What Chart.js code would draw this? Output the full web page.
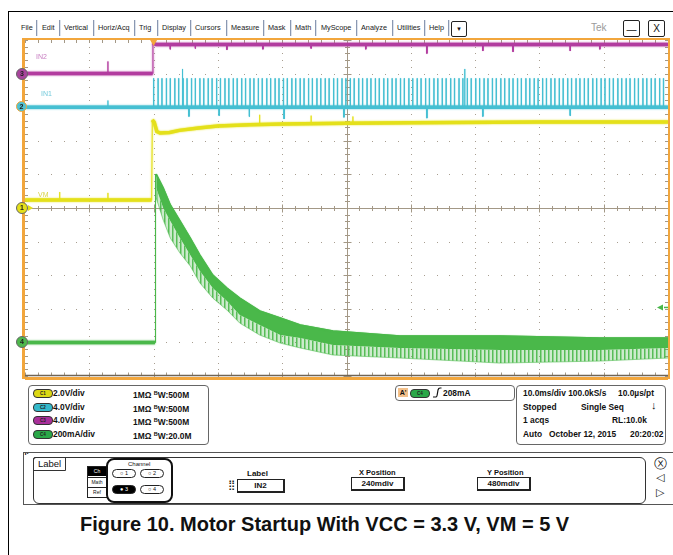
<!DOCTYPE html>
<html>
<head>
<meta charset="utf-8">
<script src="https://cdn.jsdelivr.net/npm/chart.js@4.4.1/dist/chart.umd.min.js"></script>
<style>
  body { margin: 0; width: 673px; height: 555px; position: relative; overflow: hidden; background: #fff;
         font-family: "Liberation Sans", Arial, sans-serif; color: #111; }
  .abs { position: absolute; }
  .menu { position: absolute; top: 23px; font-size: 7.3px; line-height: 10px; color: #1a1a1a; white-space: nowrap; }
  .sep { position: absolute; top: 20px; width: 1px; height: 16px; background: #8a98b2; box-shadow: 1px 0 0 #dde3ec; }
  .btn { position: absolute; border: 1px solid #222; border-radius: 2px; background: #fff; text-align: center; }
  .box { position: absolute; border: 1px solid #666; border-radius: 4px; }
  .row { position: absolute; font-size: 8.4px; font-weight: bold; line-height: 9px; white-space: nowrap; }
  .pill { position: absolute; width: 18px; height: 7px; border-radius: 4px; border: 1px solid #333;
          font: bold 4.5px "Liberation Sans", Arial; text-align: center; line-height: 7px; color: #222; }
  .bw { font-size: 5.5px; vertical-align: 3px; }
  .mk { position: absolute; left: 16px; width: 10px; height: 10px; border-radius: 50%; border: 1px solid #666;
        font: bold 7px "Liberation Sans", Arial; text-align: center; line-height: 10px; color: #222; z-index: 3; }
  .tag { position: absolute; font-size: 7px; line-height: 8px; z-index: 3; }
  .small { position: absolute; font-size: 5px; line-height: 6px; white-space: nowrap; }
  .radio { position: absolute; width: 22px; height: 7px; border: 1px solid #222; border-radius: 5px;
           font-size: 5.5px; line-height: 7px; text-align: center; }
  .field { position: absolute; height: 11px; border: 1px solid #222; border-right-width: 2px; border-bottom-width: 2px;
           font-size: 8px; font-weight: bold; line-height: 11px; text-align: center; }
</style>
</head>
<body>
<!-- outer frame -->
<div class="abs" style="left:8px;top:11px;width:665px;height:1px;background:#000"></div>
<div class="abs" style="left:8px;top:11px;width:1px;height:544px;background:#000"></div>

<!-- menu bar -->
<div class="menu" style="left:21px">File</div>
<div class="sep" style="left:36px"></div>
<div class="menu" style="left:42px">Edit</div>
<div class="sep" style="left:59px"></div>
<div class="menu" style="left:64px">Vertical</div>
<div class="sep" style="left:93px"></div>
<div class="menu" style="left:98px">Horiz/Acq</div>
<div class="sep" style="left:134px"></div>
<div class="menu" style="left:139px">Trig</div>
<div class="sep" style="left:157px"></div>
<div class="menu" style="left:162px">Display</div>
<div class="sep" style="left:190px"></div>
<div class="menu" style="left:195px">Cursors</div>
<div class="sep" style="left:226px"></div>
<div class="menu" style="left:231px">Measure</div>
<div class="sep" style="left:263px"></div>
<div class="menu" style="left:268px">Mask</div>
<div class="sep" style="left:290px"></div>
<div class="menu" style="left:295px">Math</div>
<div class="sep" style="left:315px"></div>
<div class="menu" style="left:321px">MyScope</div>
<div class="sep" style="left:356px"></div>
<div class="menu" style="left:361px">Analyze</div>
<div class="sep" style="left:392px"></div>
<div class="menu" style="left:397px">Utilities</div>
<div class="sep" style="left:424px"></div>
<div class="menu" style="left:429px">Help</div>
<div class="sep" style="left:448px"></div>
<div class="btn" style="left:451px;top:21px;width:14px;height:14px;font-size:6px;line-height:14px">&#9660;</div>
<div class="abs" style="left:591px;top:22px;font-size:10px;color:#9a9a9a">Tek</div>
<div class="btn" style="left:623px;top:20px;width:15px;height:15px;font-size:10px;line-height:17px">&#8212;</div>
<div class="btn" style="left:648px;top:20px;width:15px;height:15px;font-size:10px;line-height:15px">X</div>

<!-- scope screen -->
<div class="abs" style="left:0;top:30px;width:673px;height:355px"><canvas id="scope"></canvas></div>

<div class="mk" id="mk3" style="background:#a8439c">3</div>
<div class="mk" id="mk2" style="background:#4ec2d4;border:1.5px solid #f0a53a;width:9px;height:9px;line-height:9px">2</div>
<div class="mk" id="mk1" style="background:#e4e01a">1</div>
<div class="abs" id="mk1arrow" style="left:28px;width:0;height:0;border-top:3px solid transparent;border-bottom:3px solid transparent;border-left:5px solid #e4e01a;z-index:3"></div>
<div class="mk" id="mk4" style="background:#4db84b">4</div>
<div class="tag" id="tagIN2" style="left:36px;color:#c77cc0">IN2</div>
<div class="tag" id="tagIN1" style="left:41px;color:#74cadb">IN1</div>
<div class="tag" id="tagVM" style="left:38px;color:#d9d44a">VM</div>

<!-- vertical settings -->
<div class="box" style="left:28px;top:385px;width:179px;height:58px"></div>
<div class="pill" style="left:33px;top:389px;background:#dcd813">C1</div>
<div class="row" style="left:53px;top:389px">2.0V/div</div>
<div class="row" style="left:133px;top:389px">1M&Omega; <span class="bw">B</span>W:500M</div>
<div class="pill" style="left:33px;top:403px;background:#33b9cb">C2</div>
<div class="row" style="left:53px;top:403px">4.0V/div</div>
<div class="row" style="left:133px;top:403px">1M&Omega; <span class="bw">B</span>W:500M</div>
<div class="pill" style="left:33px;top:416px;background:#a8309a">C3</div>
<div class="row" style="left:53px;top:416px">4.0V/div</div>
<div class="row" style="left:133px;top:416px">1M&Omega; <span class="bw">B</span>W:500M</div>
<div class="pill" style="left:33px;top:430px;background:#2aa848">C4</div>
<div class="row" style="left:53px;top:430px">200mA/div</div>
<div class="row" style="left:133px;top:430px">1M&Omega; <span class="bw">B</span>W:20.0M</div>

<!-- trigger readout -->
<div class="box" style="left:395px;top:385px;width:118px;height:14px"></div>
<div class="abs" style="left:398px;top:388px;width:10px;height:9px;background:#f3c08a;font-size:7px;font-weight:bold;line-height:9px;text-align:center">A'</div>
<div class="pill" style="left:410px;top:389px;background:#2aa848">C4</div>
<svg class="abs" style="left:432px;top:387px" width="10" height="11"><path d="M1 10 L4 10 Q5 10 5.5 6 L6 3 Q6.5 1 8 1 L9.5 1" fill="none" stroke="#111" stroke-width="1.2"/></svg>
<div class="row" style="left:443px;top:389px">208mA</div>

<!-- horizontal readout -->
<div class="box" style="left:516px;top:385px;width:148px;height:58px"></div>
<div class="row" style="left:523px;top:389px">10.0ms/div 100.0kS/s</div>
<div class="row" style="left:618px;top:389px">10.0&micro;s/pt</div>
<div class="row" style="left:523px;top:403px">Stopped</div>
<div class="row" style="left:581px;top:403px">Single Seq</div>
<div class="row" style="left:651px;top:401px;font-size:11px">&#8595;</div>
<div class="row" style="left:523px;top:416px">1 acqs</div>
<div class="row" style="left:612px;top:416px">RL:10.0k</div>
<div class="row" style="left:523px;top:430px">Auto</div>
<div class="row" style="left:549px;top:430px">October 12, 2015</div>
<div class="row" style="left:630px;top:430px">20:20:02</div>

<!-- lower control panel -->
<div class="abs" style="left:23px;top:452px;width:650px;height:51px;border-top:1px solid #555;border-bottom:1px solid #555;border-left:1px solid #555"></div>
<div class="abs" style="left:24px;top:452px;font-size:7px;line-height:7px">&#10251;</div>
<div class="abs" style="left:33px;top:457px;width:611px;height:45px;border:1px solid #333;border-radius:2px 6px 6px 6px"></div>
<div class="abs" style="left:33px;top:457px;width:31px;height:12px;border:1px solid #333;border-radius:3px 0 0 0;font-size:9.5px;line-height:12px;padding-left:0;text-align:center">Label</div>
<div class="abs" style="left:87px;top:466px;width:19px;height:30px;border:1px solid #222"></div>
<div class="small" style="left:88px;top:467px;width:18px;height:9px;background:#000;color:#fff;line-height:9px;text-align:center">Ch</div>
<div class="small" style="left:88px;top:477px;width:18px;line-height:9px;text-align:center;border-top:1px solid #222">Math</div>
<div class="small" style="left:88px;top:487px;width:18px;line-height:9px;text-align:center;border-top:1px solid #222">Ref</div>
<div class="abs" style="left:106px;top:458px;width:63px;height:41px;border:2px solid #111;border-radius:8px"></div>
<div class="small" style="left:128px;top:461px;font-size:6px">Channel</div>
<div class="radio" style="left:112px;top:469px">&#9675; 1</div>
<div class="radio" style="left:140px;top:469px">&#9675; 2</div>
<div class="radio" style="left:112px;top:485px;background:#000;color:#fff">&#9679; 3</div>
<div class="radio" style="left:140px;top:485px">&#9675; 4</div>
<div class="abs" style="left:247px;top:469px;font-size:8px;font-weight:bold">Label</div>
<div class="abs" style="left:228px;top:479px;font-size:10px;line-height:12px">&#10495;</div>
<div class="field" style="left:237px;top:479px;width:45px">IN2</div>
<div class="abs" style="left:359px;top:468px;font-size:7.5px;font-weight:bold">X Position</div>
<div class="field" style="left:351px;top:477px;width:51px">240mdiv</div>
<div class="abs" style="left:487px;top:468px;font-size:7.5px;font-weight:bold">Y Position</div>
<div class="field" style="left:477px;top:477px;width:51px">480mdiv</div>
<div class="abs" style="left:654px;top:457px;font-size:13px;line-height:14px;font-family:'DejaVu Sans'">&#9447;</div>
<div class="abs" style="left:656px;top:472px;font-size:11px;line-height:12px;font-family:'DejaVu Sans'">&#9665;</div>
<div class="abs" style="left:656px;top:487px;font-size:11px;line-height:12px;font-family:'DejaVu Sans'">&#9655;</div>

<!-- caption -->
<div class="abs" style="left:80px;top:513px;font-size:20px;font-weight:bold;white-space:nowrap">Figure 10. Motor Startup With VCC = 3.3 V, VM = 5 V</div>

<script>
// time in ms relative to the trigger, 10 ms/div, 10 divisions
const timeRange = [-20, 80];

// C1: VM, 2.0 V/div
const vmTime  = [-20, -0.3, -0.2, 0.1, 0.5, 1.0, 2.5, 4.0, 7.0, 10.0, 15.0, 20.0, 30.0, 40.0, 60.0, 80.0];
const vmVolts = [0.48, 0.48, 5.24, 5.1, 4.55, 4.46, 4.5, 4.62, 4.76, 4.88, 4.95, 5.0, 5.05, 5.08, 5.12, 5.12];
const vmGlitchTime = [-14.6, -7.1, 16.5, 24.5, 31.0];
const vmGlitchFrom = [0.48, 0.48, 5.0, 5.05, 5.05];
const vmGlitchTo   = [0.95, 0.9, 5.55, 5.5, 5.45];

// C2: IN1, 4.0 V/div
const in1Time  = [-20, 80];
const in1Volts = [0, 0];
const in1PulseTime = [
  0.0, 0.7, 1.3, 2.0, 2.6, 3.3, 3.9, 4.6, 5.2, 5.9,
  6.5, 7.2, 7.8, 8.5, 9.1, 9.8, 10.4, 11.1, 11.7, 12.4,
  13.0, 13.7, 14.3, 15.0, 15.6, 16.3, 16.9, 17.6, 18.2, 18.9,
  19.5, 20.2, 20.8, 21.5, 22.1, 22.8, 23.4, 24.1, 24.7, 25.4,
  26.0, 26.7, 27.3, 28.0, 28.6, 29.3, 29.9, 30.6, 31.2, 31.9,
  32.5, 33.2, 33.8, 34.5, 35.1, 35.8, 36.4, 37.1, 37.7, 38.4,
  39.0, 39.7, 40.3, 41.0, 41.6, 42.3, 42.9, 43.6, 44.2, 44.9,
  45.5, 46.2, 46.8, 47.5, 48.1, 48.8, 49.4, 50.1, 50.7, 51.4,
  52.0, 52.7, 53.3, 54.0, 54.6, 55.3, 55.9, 56.6, 57.2, 57.9,
  58.5, 59.2, 59.8, 60.5, 61.1, 61.8, 62.4, 63.1, 63.7, 64.4,
  65.0, 65.7, 66.3, 67.0, 67.6, 68.3, 68.9, 69.6, 70.2, 70.9,
  71.5, 72.2, 72.8, 73.5, 74.1, 74.8, 75.4, 76.1, 76.7, 77.4,
  78.0, 78.7, 79.3
];
const in1PulseTop = 3.45;
const in1TallTime  = [4.5, 48.4];
const in1TallVolts = [4.55, 4.55];
const in1GlitchTime = [-7.1, 5.5, 10.2, 14.9, 20.3, 29.6, 42.5, 51.2, 64.8];
const in1GlitchTo   = [0.8, -1.1, -1.0, -1.1, -1.4, -1.2, -1.3, -1.1, -1.0];

// C3: IN2, 4.0 V/div
const in2Time  = [-20, -0.15, -0.1, 0.4, 80];
const in2Volts = [0, 0, 3.65, 3.45, 3.45];
const in2GlitchTime = [-7.1, 2.6, 6.5, 11.4, 17.0, 24.5, 33.0, 42.5, 51.2, 55.9, 64.8, 69.4];
const in2GlitchFrom = [0, 3.45, 3.45, 3.45, 3.45, 3.45, 3.45, 3.45, 3.45, 3.45, 3.45, 3.45];
const in2GlitchTo   = [1.45, 2.9, 3.0, 2.85, 2.9, 3.0, 2.9, 2.4, 2.7, 2.6, 2.7, 2.9];

// C4: motor current, 200 mA/div
const iPreTime  = [-20, 0.22];
const iPre      = [0, 0];
const iRiseTime = [0.22, 0.3];
const iRise     = [0, 1002];
const iTime   = [0.4, 1.5, 2.6, 4.1, 5.7, 7.2, 9.2, 11.4, 13.4, 16.5, 19.7, 22.8, 27.9, 38.3, 53.9, 69.4, 80];
const iUpper  = [1002, 919, 818, 723, 621, 520, 401, 324, 264, 187, 145, 104, 68, 38, 38, 26, 26];
const iLower  = [919, 800, 723, 621, 520, 425, 324, 246, 163, 104, 44, 26, -15, -33, -45, -45, -33];
const iRipple = [860, 728, 621, 532, 455, 354, 264, 193, 115, 44, -4, -33, -75, -93, -123, -111, -93];
const triggerLevel = 208; // mA

const colors = { vm: '#e4e01a', in1: '#45bfd2', in2: '#b23c9f', i4: '#4ab84a', frame: '#f2a63c', grat: '#a39886' };

function pts(xs, ys) { return xs.map((x, i) => ({ x: x, y: ys[i] })); }
function segs(times, from, to) {
  const out = [];
  times.forEach((t, i) => {
    out.push({ x: t, y: Array.isArray(from) ? from[i] : from });
    out.push({ x: t, y: Array.isArray(to) ? to[i] : to });
    out.push({ x: t, y: null });
  });
  return out;
}
const edgeWidth = c => (c.p1.parsed.x - c.p0.parsed.x < 0.2 ? 1 : 3.5);

// striped fill for the current ripple
const stripe = document.createElement('canvas');
stripe.width = 4; stripe.height = 4;
const sctx = stripe.getContext('2d');
sctx.fillStyle = 'rgba(74,184,74,0.28)'; sctx.fillRect(0, 0, 4, 4);
sctx.fillStyle = 'rgba(74,184,74,0.9)'; sctx.fillRect(0, 0, 1.5, 4);
const ctx = document.getElementById('scope').getContext('2d');
const ripplePattern = ctx.createPattern(stripe, 'repeat');

const graticule = {
  id: 'graticule',
  beforeDatasetsDraw(chart) {
    const { ctx, chartArea: a, scales } = chart;
    const xs = scales.x, ys = scales.vm;
    ctx.save();
    ctx.fillStyle = '#a89e90';
    for (let d = 1; d < 10; d++) {
      if (d === 5) continue;
      const px = Math.round(xs.getPixelForValue(-20 + d * 10));
      for (let k = 0; k <= 50; k++) ctx.fillRect(px, Math.round(ys.getPixelForValue(-10 + k * 0.4)), 1, 1);
      const py = Math.round(ys.getPixelForValue(-10 + d * 2));
      for (let k = 0; k <= 50; k++) ctx.fillRect(Math.round(xs.getPixelForValue(-20 + k * 2)), py, 1, 1);
    }
    const cx = Math.round(xs.getPixelForValue(30)) + 0.5, cy = Math.round(ys.getPixelForValue(0)) + 0.5;
    ctx.strokeStyle = colors.grat; ctx.lineWidth = 1;
    ctx.beginPath();
    ctx.moveTo(a.left, cy); ctx.lineTo(a.right, cy);
    ctx.moveTo(cx, a.top); ctx.lineTo(cx, a.bottom);
    for (let k = 0; k <= 50; k++) {
      const len = k % 5 === 0 ? 4 : 2.5;
      const px = Math.round(xs.getPixelForValue(-20 + k * 2)) + 0.5;
      ctx.moveTo(px, cy - len); ctx.lineTo(px, cy + len);
      ctx.moveTo(px, a.top); ctx.lineTo(px, a.top + 3);
      ctx.moveTo(px, a.bottom); ctx.lineTo(px, a.bottom - 3.5);
      const py = Math.round(ys.getPixelForValue(-10 + k * 0.4)) + 0.5;
      ctx.moveTo(cx - len, py); ctx.lineTo(cx + len, py);
      ctx.moveTo(a.left, py); ctx.lineTo(a.left + 3, py);
      ctx.moveTo(a.right, py); ctx.lineTo(a.right - 3, py);
    }
    ctx.stroke();
    ctx.strokeStyle = '#6f6455'; ctx.lineWidth = 1.5;
    ctx.beginPath(); ctx.moveTo(a.left, a.bottom - 0.5); ctx.lineTo(a.right, a.bottom - 0.5); ctx.stroke();
    ctx.restore();
  },
  // slight blur so the traces look like phosphor bands
  beforeDatasetDraw(chart, args) {
    const ds = chart.data.datasets[args.index];
    chart.ctx.save();
    chart.ctx.shadowColor = ds.borderColor || 'rgba(0,0,0,0)';
    chart.ctx.shadowBlur = ds.borderWidth > 2 ? 2 : 0.8;
  },
  afterDatasetDraw(chart) {
    chart.ctx.restore();
  },
  afterDraw(chart) {
    const { ctx, chartArea: a, scales } = chart;
    ctx.save();
    ctx.strokeStyle = colors.frame;
    ctx.lineWidth = 2;
    ctx.beginPath();
    ctx.moveTo(a.left - 1, a.top - 1); ctx.lineTo(a.right + 1, a.top - 1);
    ctx.lineTo(a.right + 1, a.bottom + 2); ctx.lineTo(a.left - 1, a.bottom + 2);
    ctx.stroke();
    ctx.lineWidth = 3;
    ctx.beginPath(); ctx.moveTo(a.left - 1.5, a.top - 2); ctx.lineTo(a.left - 1.5, a.bottom + 3); ctx.stroke();
    ctx.beginPath(); ctx.moveTo(a.left, a.bottom + 2.5); ctx.lineTo(a.right, a.bottom + 2.5); ctx.stroke();
    // trigger position marker
    const tx = scales.x.getPixelForValue(0);
    ctx.fillStyle = colors.frame;
    ctx.beginPath(); ctx.moveTo(tx - 3.5, a.top); ctx.lineTo(tx + 3.5, a.top); ctx.lineTo(tx, a.top + 6); ctx.closePath(); ctx.fill();
    // trigger level marker
    const ty = scales.i4.getPixelForValue(triggerLevel);
    ctx.fillStyle = colors.i4; ctx.strokeStyle = colors.i4; ctx.lineWidth = 1.5;
    ctx.beginPath(); ctx.moveTo(a.right - 4, ty); ctx.lineTo(a.right, ty); ctx.stroke();
    ctx.beginPath(); ctx.moveTo(a.right - 11, ty); ctx.lineTo(a.right - 5, ty - 3); ctx.lineTo(a.right - 5, ty + 3); ctx.closePath(); ctx.fill();
    ctx.restore();
  }
};

const thick = { borderWidth: 3.5, pointRadius: 0, fill: false, segment: { borderWidth: edgeWidth } };
const thin = { borderWidth: 1, pointRadius: 0, fill: false, spanGaps: false };

const datasets = [
  Object.assign({ data: pts(vmTime, vmVolts), borderColor: colors.vm, yAxisID: 'vm' }, thick),
  Object.assign({ data: segs(vmGlitchTime, vmGlitchFrom, vmGlitchTo), borderColor: colors.vm, yAxisID: 'vm' }, thin),
  Object.assign({ data: pts(in1Time, in1Volts), borderColor: colors.in1, yAxisID: 'in1' }, thick),
  Object.assign({ data: segs(in1PulseTime, 0, in1PulseTop), borderColor: colors.in1, yAxisID: 'in1' }, thin, { borderWidth: 1.2 }),
  Object.assign({ data: segs(in1TallTime, 0, in1TallVolts), borderColor: colors.in1, yAxisID: 'in1' }, thin),
  Object.assign({ data: segs(in1GlitchTime, 0, in1GlitchTo), borderColor: colors.in1, yAxisID: 'in1' }, thin),
  Object.assign({ data: pts(in2Time, in2Volts), borderColor: colors.in2, yAxisID: 'in2' }, thick),
  Object.assign({ data: segs(in2GlitchTime, in2GlitchFrom, in2GlitchTo), borderColor: colors.in2, yAxisID: 'in2' }, thin),
  Object.assign({ data: pts(iPreTime, iPre), borderColor: colors.i4, yAxisID: 'i4' }, thick),
  Object.assign({ data: pts(iRiseTime, iRise), borderColor: colors.i4, yAxisID: 'i4' }, thin),
  { data: pts(iTime, iLower), borderWidth: 0, pointRadius: 0, fill: false, yAxisID: 'i4' },
  { data: pts(iTime, iUpper), borderColor: colors.i4, borderWidth: 1.5, pointRadius: 0, yAxisID: 'i4',
    backgroundColor: colors.i4, fill: { target: 10 } },
  { data: pts(iTime, iRipple), borderColor: 'rgba(74,184,74,0.45)', borderWidth: 1, pointRadius: 0, yAxisID: 'i4',
    backgroundColor: ripplePattern, fill: { target: 10 } }
];

const chart = new Chart(ctx, {
  type: 'line',
  data: { datasets: datasets },
  options: {
    responsive: true,
    maintainAspectRatio: false,
    animation: false,
    layout: { padding: { left: 25, right: 5, top: 10, bottom: 9 } },
    plugins: { legend: { display: false }, tooltip: { enabled: false } },
    elements: { line: { tension: 0 } },
    scales: {
      x: { type: 'linear', min: timeRange[0], max: timeRange[1], display: false },
      vm: { type: 'linear', min: -10, max: 10, display: false },
      in1: { type: 'linear', min: -32, max: 8, display: false },
      in2: { type: 'linear', min: -36, max: 4, display: false },
      i4: { type: 'linear', min: -200, max: 1800, display: false }
    }
  },
  plugins: [graticule]
});

// channel ground markers and labels follow the scales
const top0 = 30;
function place(id, y, dy) { document.getElementById(id).style.top = (top0 + y + dy) + 'px'; }
const y3 = chart.scales.in2.getPixelForValue(0), y2 = chart.scales.in1.getPixelForValue(0);
const y1 = chart.scales.vm.getPixelForValue(0), y4 = chart.scales.i4.getPixelForValue(0);
place('mk3', y3, -6); place('mk2', y2, -6); place('mk1', y1, -6); place('mk1arrow', y1, -3); place('mk4', y4, -6);
place('tagIN2', y3, -21); place('tagIN1', y2, -17); place('tagVM', y1, -17);
</script>
</body>
</html>
